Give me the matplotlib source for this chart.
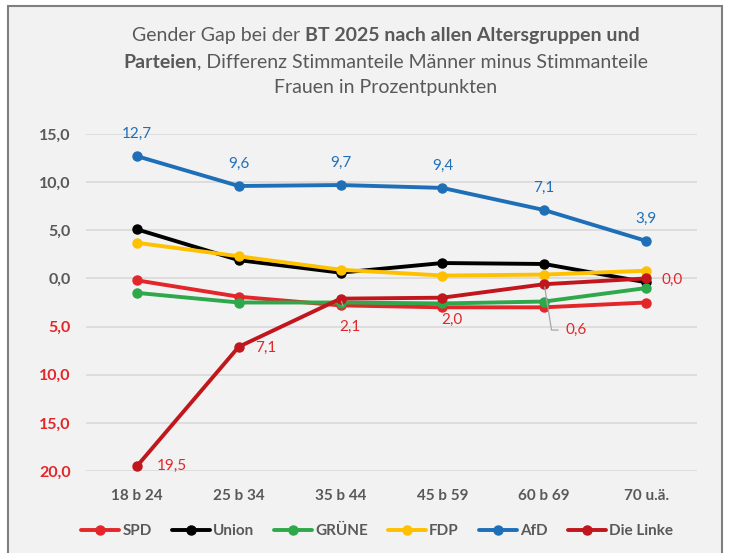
"""
Gender Gap BT 2025 nach Altersgruppen und Parteien
"""
import matplotlib
matplotlib.use("Agg")
import matplotlib.pyplot as plt
from matplotlib.patches import Rectangle
from matplotlib.ticker import FuncFormatter

plt.rcParams['font.family'] = ['Lato', 'DejaVu Sans']

groups = ["18 b 24", "25 b 34", "35 b 44", "45 b 59", "60 b 69", "70 u.ä."]

spd = [-0.2, -1.9, -2.8, -3.0, -3.0, -2.5]
union = [5.1, 1.9, 0.6, 1.6, 1.5, -0.4]
gruene = [-1.5, -2.5, -2.5, -2.6, -2.4, -1.0]
fdp = [3.7, 2.3, 0.9, 0.3, 0.4, 0.8]
afd = [12.7, 9.6, 9.7, 9.4, 7.1, 3.9]
linke = [-19.5, -7.1, -2.1, -2.0, -0.6, 0.0]

parties = ["SPD", "Union", "GRÜNE", "FDP", "AfD", "Die Linke"]
colors = ["#e3262a", "#000000", "#2ea84a", "#ffc000", "#1f6fb8", "#c0161c"]

BG = "#f2f2f2"
GRAY = "#595959"
RED = "#e3262a"


def fmt(v, _pos=None):
    return ("%.1f" % abs(v)).replace(".", ",")


def draw():
    fig = plt.figure(figsize=(7.31, 5.53), dpi=100, facecolor="white")
    fig.patches.append(Rectangle((7.5 / 731, -0.05), (722 - 7.5) / 731, 1.05 - 6 / 553,
                                 transform=fig.transFigure, facecolor=BG,
                                 edgecolor="#7f7f7f", linewidth=1.5, zorder=-10))

    ax = fig.add_axes([86 / 731, 82 / 553, (697 - 86) / 731, (471 - 134) / 553])
    ax.set_facecolor("none")
    x = list(range(len(groups)))
    series = [spd, union, gruene, fdp, afd, linke]
    for vals, name, col in zip(series, parties, colors):
        ax.plot(x, vals, color=col, lw=2.8, marker="o", ms=6.5, label=name,
                solid_capstyle="round", zorder=3)

    ax.set_xlim(-0.5, 5.5)
    ax.set_ylim(-20, 15)
    ax.set_yticks([15, 10, 5, 0, -5, -10, -15, -20])
    ax.yaxis.set_major_formatter(FuncFormatter(fmt))
    ax.set_xticks(x)
    ax.set_xticklabels(groups)
    ax.grid(axis="y", color="#d9d9d9", lw=1.2, zorder=0)
    ax.set_axisbelow(True)
    for s in ax.spines.values():
        s.set_visible(False)
    ax.tick_params(length=0)
    ax.tick_params(axis="y", pad=11)
    ax.tick_params(axis="x", pad=13)
    for lab in ax.get_yticklabels():
        lab.set_fontweight("bold")
        lab.set_fontsize(11.5)
        lab.set_color(RED if lab.get_position()[1] < 0 else GRAY)
    for lab in ax.get_xticklabels():
        lab.set_fontweight("bold")
        lab.set_fontsize(11)
        lab.set_color(GRAY)

    # AfD labels above points
    for i, v in enumerate(afd):
        ax.annotate(fmt(v), (i, v), xytext=(0, 16), textcoords="offset points",
                    ha="center", va="center", color=colors[4], fontsize=11)

    # Die Linke labels
    lk_off = [(14, 0, "left"), (11.5, -1, "left"), (6.5, -20, "center"),
              (6.5, -16, "center"), (15, -33, "left"), (11, -1, "left")]
    for i, (v, (dx, dy, ha)) in enumerate(zip(linke, lk_off)):
        arrow = None
        if i == 4:
            arrow = dict(arrowstyle="-", color="#a6a6a6", lw=0.9, shrinkA=3, shrinkB=2,
                         connectionstyle="angle,angleA=0,angleB=-81,rad=0")
        elif i == 2:
            arrow = dict(arrowstyle="-", color="#a6a6a6", lw=0.9, shrinkA=8, shrinkB=2)
        ax.annotate(fmt(v), (i, v), xytext=(dx, dy), textcoords="offset points",
                    ha=ha, va="center", color=RED, fontsize=11, arrowprops=arrow)

    leg = fig.legend(loc="center", bbox_to_anchor=(377 / 731, 1 - 531 / 553), ncol=6,
                     frameon=False, handlelength=2.5, handletextpad=0.2,
                     columnspacing=1.3, fontsize=11)
    for t in leg.get_texts():
        t.set_fontweight("bold")
        t.set_color(GRAY)

    # title with mixed weights
    lines = [[("Gender Gap bei der ", "normal"),
              ("BT 2025 nach allen Altersgruppen und", "bold")],
             [("Parteien", "bold"),
              (", Differenz Stimmanteile Männer minus Stimmanteile", "normal")],
             [("Frauen in Prozentpunkten", "normal")]]
    ys = [35, 62, 87]
    cx = 386
    fig.canvas.draw()
    r = fig.canvas.get_renderer()
    for parts, yy in zip(lines, ys):
        texts = [fig.text(0, 1 - yy / 553, s, fontweight=w, fontsize=14, color=GRAY,
                          va="center", ha="left") for s, w in parts]
        widths = [t.get_window_extent(r).width for t in texts]
        xpos = cx - sum(widths) / 2
        for t, w in zip(texts, widths):
            t.set_x(xpos / 731)
            xpos += w

    fig.savefig("out.png", dpi=100, facecolor="white")


if __name__ == "__main__":
    draw()
